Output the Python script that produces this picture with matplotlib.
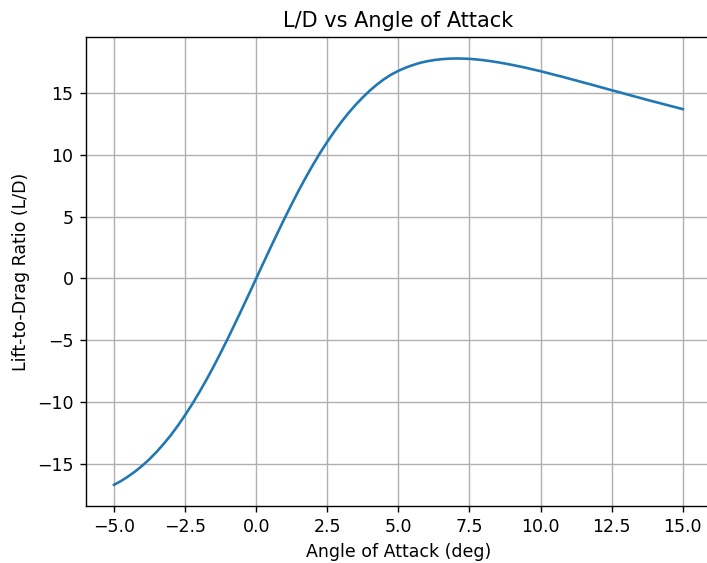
import matplotlib
matplotlib.use("Agg")
import matplotlib.pyplot as plt

# Angle of attack (deg) and L/D
alpha_deg = [-5.0, -4.75, -4.5, -4.25, -4.0, -3.75, -3.5, -3.25, -3.0, -2.75,
             -2.5, -2.25, -2.0, -1.75, -1.5, -1.25, -1.0, -0.75, -0.5, -0.25,
             0.0, 0.25, 0.5, 0.75, 1.0, 1.25, 1.5, 1.75, 2.0, 2.25,
             2.5, 2.75, 3.0, 3.25, 3.5, 3.75, 4.0, 4.25, 4.5, 4.75,
             5.0, 5.25, 5.5, 5.75, 6.0, 6.25, 6.5, 6.75, 7.0, 7.25,
             7.5, 7.75, 8.0, 8.25, 8.5, 8.75, 9.0, 9.25, 9.5, 9.75,
             10.0, 10.25, 10.5, 10.75, 11.0, 11.25, 11.5, 11.75, 12.0, 12.25,
             12.5, 12.75, 13.0, 13.25, 13.5, 13.75, 14.0, 14.25, 14.5, 14.75,
             15.0]
lift_to_drag = [-16.70, -16.39, -16.02, -15.61, -15.14, -14.62, -14.03, -13.38, -12.68, -11.90,
                -11.06, -10.17, -9.21, -8.20, -7.14, -6.02, -4.87, -3.68, -2.47, -1.24,
                0.00, 1.24, 2.47, 3.68, 4.87, 6.02, 7.14, 8.20, 9.21, 10.17,
                11.06, 11.90, 12.68, 13.40, 14.06, 14.66, 15.21, 15.70, 16.13, 16.50,
                16.80, 17.05, 17.26, 17.44, 17.57, 17.67, 17.74, 17.78, 17.80, 17.79,
                17.77, 17.72, 17.66, 17.58, 17.49, 17.39, 17.28, 17.16, 17.04, 16.90,
                16.77, 16.62, 16.47, 16.33, 16.17, 16.02, 15.86, 15.71, 15.55, 15.39,
                15.23, 15.08, 14.92, 14.76, 14.61, 14.45, 14.30, 14.15, 14.00, 13.85,
                13.70]

# screenshot is a slightly enlarged matplotlib figure, so render at 125 dpi
fig = plt.figure(figsize=(707 / 125, 563 / 125), dpi=125)
ax = fig.add_axes([0.121, 0.101, 0.885, 0.833])
ax.plot(alpha_deg, lift_to_drag)
ax.set_title("L/D vs Angle of Attack")
ax.set_xlabel("Angle of Attack (deg)")
ax.set_ylabel("Lift-to-Drag Ratio (L/D)")
ax.grid(True)

fig.savefig("out.png", dpi=125)
